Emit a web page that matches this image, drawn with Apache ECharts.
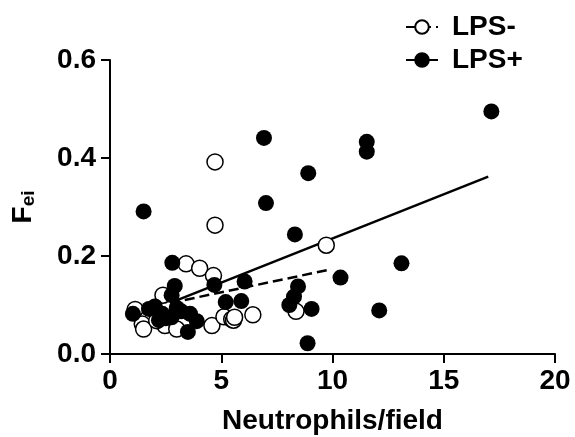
<!DOCTYPE html>
<html>
<head>
<meta charset="utf-8">
<script src="https://cdn.jsdelivr.net/npm/echarts@6/dist/echarts.min.js"></script>
<style>
html,body{margin:0;padding:0;background:#fff;}
#chart{width:575px;height:437px;}
</style>
</head>
<body>
<div id="chart"></div>
<script>
// ---- data ----
const seriesNames = ['LPS-', 'LPS+'];

const lpsMinusPoints = [
  [4.72,0.392],[4.72,0.263],[9.72,0.222],[3.42,0.184],[4.03,0.175],[4.65,0.160],
  [2.38,0.120],[1.13,0.091],[1.45,0.061],[1.51,0.051],[2.47,0.058],[3.00,0.051],
  [4.58,0.058],[5.12,0.076],[5.47,0.071],[5.55,0.069],[5.60,0.075],[6.42,0.080],
  [8.36,0.087],[2.10,0.068]
];

const lpsPlusPoints = [
  [1.51,0.291],[17.14,0.495],[6.92,0.441],[11.54,0.433],[11.54,0.413],[8.91,0.369],
  [7.01,0.308],[8.31,0.244],[13.1,0.185],[2.80,0.186],[10.36,0.156],[6.05,0.148],
  [4.69,0.141],[2.91,0.139],[2.77,0.120],[8.45,0.138],[8.27,0.117],[8.06,0.100],
  [9.06,0.092],[12.1,0.089],[8.88,0.022],[5.20,0.106],[5.90,0.108],[1.03,0.082],
  [1.75,0.092],[2.02,0.097],[2.35,0.082],[2.77,0.075],[2.50,0.073],[3.20,0.087],
  [3.60,0.082],[3.90,0.067],[3.50,0.045],[3.00,0.094],[2.20,0.069]
];

// fitted regression lines (endpoints)
const lpsMinusFitX = [2.7, 9.75];
const lpsMinusFitY = [0.104, 0.171];
const lpsPlusFitX = [2.85, 17.0];
const lpsPlusFitY = [0.107, 0.362];

const xAxisTitle = 'Neutrophils/field';
const xMin = 0, xMax = 20, xStep = 5;
const yMin = 0, yMax = 0.6, yStep = 0.2;

// ---- chart ----
const FONT = "'Liberation Sans', Arial, sans-serif";
const chart = echarts.init(document.getElementById('chart'), null, {renderer: 'canvas'});

function pairs(xs, ys){ return xs.map((x,i)=>[x, ys[i]]); }

const axisCommon = {
  axisLine: {show: true, lineStyle: {color: '#000', width: 2}},
  axisTick: {show: true, inside: false, length: 9, lineStyle: {color: '#000', width: 2}},
  splitLine: {show: false},
};

chart.setOption({
  animation: false,
  backgroundColor: '#fff',
  grid: {left: 110, right: 20, top: 60, bottom: 83, outerBoundsMode: 'none', containLabel: false},
  legend: {
    data: seriesNames,
    orient: 'vertical',
    left: 400,
    top: 8,
    itemWidth: 32,
    itemHeight: 17,
    itemGap: 5,
    selectedMode: false,
    textStyle: {fontFamily: FONT, fontWeight: 'bold', fontSize: 28, color: '#000', padding: [0,0,0,9]}
  },
  xAxis: Object.assign({
    type: 'value', min: xMin, max: xMax, interval: xStep,
    name: xAxisTitle, nameLocation: 'middle', nameGap: 53,
    nameTextStyle: {fontFamily: FONT, fontWeight: 'bold', fontSize: 28, color: '#000'},
    axisLabel: {fontFamily: FONT, fontWeight: 'bold', fontSize: 28, color: '#000', margin: 13}
  }, axisCommon),
  yAxis: Object.assign({
    type: 'value', min: yMin, max: yMax, interval: yStep,
    name: '{f|F}{s|ei}', nameLocation: 'middle', nameGap: 72, nameRotate: 90,
    nameTextStyle: {
      fontFamily: FONT, fontWeight: 'bold', color: '#000',
      rich: {
        f: {fontFamily: FONT, fontWeight: 'bold', fontSize: 28, color: '#000', lineHeight: 30},
        s: {fontFamily: FONT, fontWeight: 'bold', fontSize: 19, color: '#000', verticalAlign: 'bottom', lineHeight: 30, padding: [12,0,0,0]}
      }
    },
    axisLabel: {fontFamily: FONT, fontWeight: 'bold', fontSize: 28, color: '#000', margin: 14,
      formatter: v => v.toFixed(1)}
  }, axisCommon),
  series: [
    {
      name: 'LPS-', type: 'line', data: pairs(lpsMinusFitX, lpsMinusFitY),
      showSymbol: false, symbol: 'circle', silent: true,
      itemStyle: {color: '#fff', borderColor: '#000', borderWidth: 1.5},
      lineStyle: {color: '#000', width: 2.5, type: [10, 5]}, z: 2
    },
    {
      name: 'LPS+', type: 'line', data: pairs(lpsPlusFitX, lpsPlusFitY),
      showSymbol: false, symbol: 'circle', silent: true,
      itemStyle: {color: '#000', borderColor: '#000', borderWidth: 1},
      lineStyle: {color: '#000', width: 2.5, type: 'solid'}, z: 2
    },
    {
      name: 'LPS-', type: 'scatter', data: lpsMinusPoints, symbol: 'circle', symbolSize: 16,
      itemStyle: {color: '#fff', borderColor: '#000', borderWidth: 1.5, opacity: 1}, z: 3
    },
    {
      name: 'LPS+', type: 'scatter', data: lpsPlusPoints, symbol: 'circle', symbolSize: 16,
      itemStyle: {color: '#000', borderColor: '#000', borderWidth: 0, opacity: 1}, z: 4
    }
  ]
});
</script>
</body>
</html>
